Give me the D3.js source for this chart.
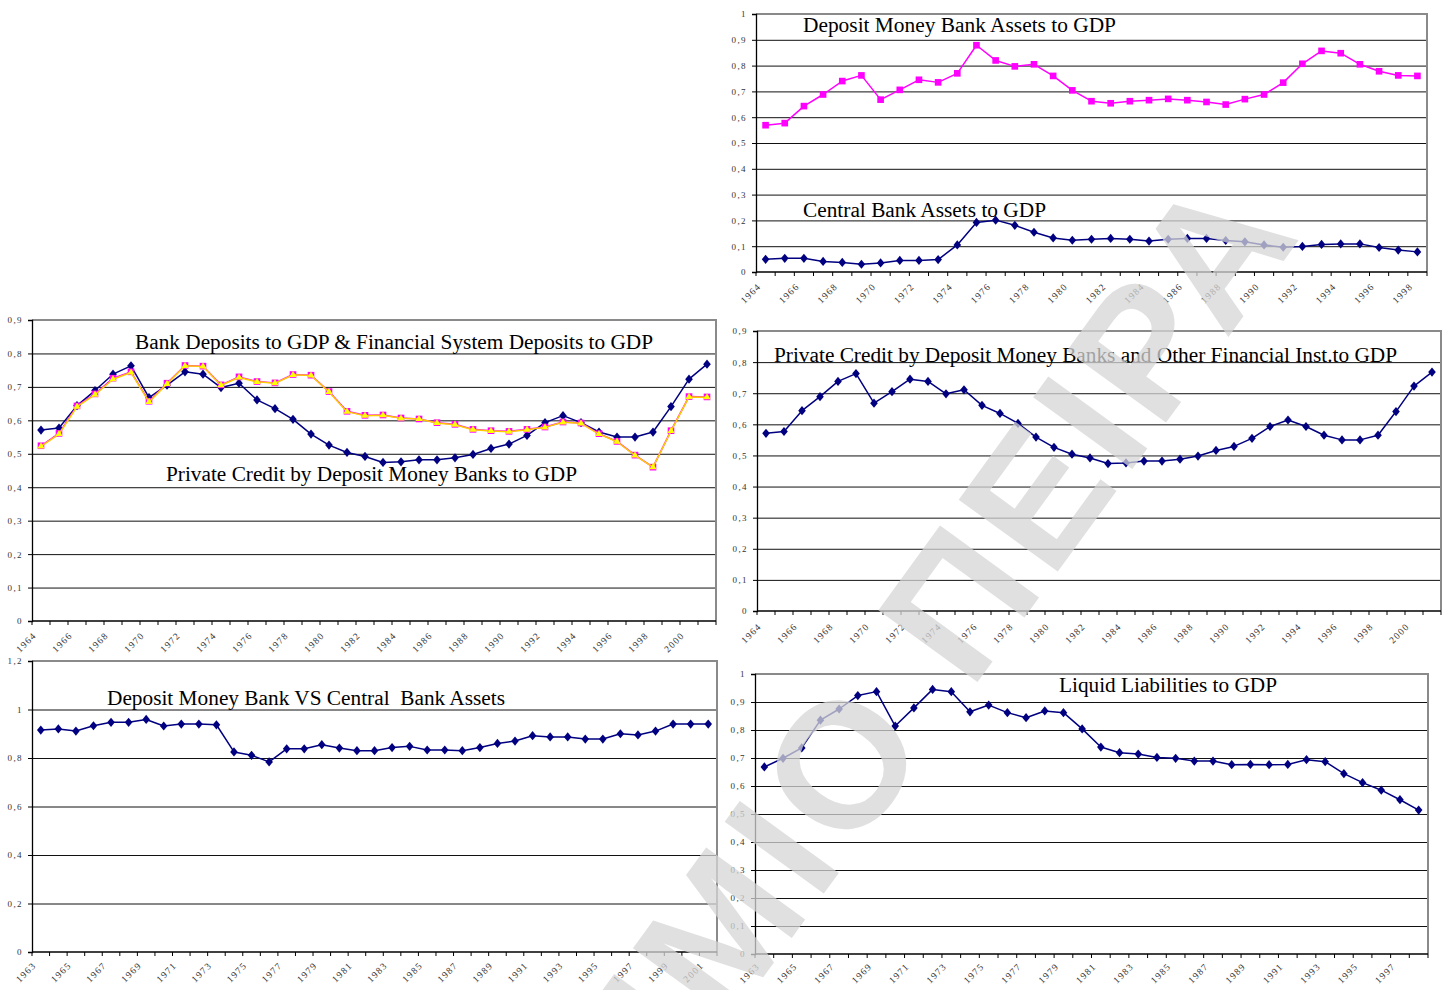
<!DOCTYPE html>
<html>
<head>
<meta charset="utf-8">
<script src="https://cdn.jsdelivr.net/npm/d3@7"></script>
<style>
  body { margin: 0; background: #fff; }
  svg { display: block; }
  text { font-family: "Liberation Serif", "Times New Roman", serif; }
</style>
</head>
<body>
<svg width="1449" height="990"></svg>
<script>
// categories (years) for each panel
var years64to98 = d3.range(1964, 1999);
var years64to01 = d3.range(1964, 2002);
var years63to01 = d3.range(1963, 2002);
var years63to98 = d3.range(1963, 1999);

// y tick values
var ticksTenth09 = [0, 0.1, 0.2, 0.3, 0.4, 0.5, 0.6, 0.7, 0.8, 0.9];
var ticksTenth10 = [0, 0.1, 0.2, 0.3, 0.4, 0.5, 0.6, 0.7, 0.8, 0.9, 1];
var ticksFifth12 = [0, 0.2, 0.4, 0.6, 0.8, 1, 1.2];

// series values
var dmbAssets = [0.569, 0.577, 0.643, 0.688, 0.740, 0.762, 0.668, 0.706, 0.745, 0.735,
                 0.770, 0.879, 0.820, 0.797, 0.805, 0.760, 0.704, 0.662, 0.654, 0.662,
                 0.666, 0.671, 0.666, 0.659, 0.649, 0.670, 0.688, 0.734, 0.807, 0.857,
                 0.848, 0.805, 0.778, 0.762, 0.760];
var cbAssets = [0.049, 0.053, 0.053, 0.041, 0.037, 0.030, 0.035, 0.045, 0.045, 0.048,
                0.105, 0.192, 0.201, 0.181, 0.154, 0.132, 0.123, 0.127, 0.130, 0.127,
                0.120, 0.127, 0.130, 0.130, 0.122, 0.117, 0.105, 0.096, 0.099, 0.107,
                0.109, 0.109, 0.095, 0.085, 0.078];
var privCredit = [0.571, 0.577, 0.644, 0.689, 0.738, 0.763, 0.668, 0.705, 0.745, 0.738,
                  0.698, 0.711, 0.661, 0.635, 0.603, 0.559, 0.526, 0.504, 0.492, 0.474,
                  0.476, 0.482, 0.482, 0.488, 0.498, 0.516, 0.529, 0.555, 0.593, 0.614,
                  0.593, 0.565, 0.550, 0.550, 0.565, 0.641, 0.723, 0.768];
var bankDeposits = [0.524, 0.561, 0.643, 0.679, 0.726, 0.745, 0.657, 0.711, 0.764, 0.762,
                    0.706, 0.730, 0.716, 0.712, 0.737, 0.735, 0.686, 0.627, 0.615, 0.616,
                    0.607, 0.604, 0.593, 0.588, 0.573, 0.569, 0.567, 0.573, 0.580, 0.595,
                    0.592, 0.560, 0.537, 0.496, 0.460, 0.569, 0.671, 0.670];
var finSysDeposits = [0.522, 0.559, 0.641, 0.677, 0.723, 0.743, 0.655, 0.709, 0.763, 0.761,
                      0.705, 0.728, 0.715, 0.711, 0.736, 0.734, 0.685, 0.626, 0.614, 0.615,
                      0.606, 0.604, 0.592, 0.587, 0.572, 0.568, 0.566, 0.572, 0.579, 0.594,
                      0.591, 0.559, 0.536, 0.495, 0.460, 0.568, 0.670, 0.669];
var dmbVsCb = [0.915, 0.920, 0.911, 0.933, 0.947, 0.947, 0.959, 0.932, 0.940, 0.940,
               0.937, 0.825, 0.811, 0.784, 0.838, 0.838, 0.855, 0.841, 0.830, 0.830,
               0.843, 0.848, 0.833, 0.833, 0.830, 0.843, 0.860, 0.870, 0.892, 0.887,
               0.887, 0.878, 0.878, 0.900, 0.895, 0.911, 0.940, 0.940, 0.940];
var liquidLiab = [0.668, 0.699, 0.736, 0.835, 0.875, 0.923, 0.937, 0.814, 0.879, 0.945,
                  0.937, 0.865, 0.889, 0.862, 0.844, 0.868, 0.862, 0.804, 0.739, 0.719,
                  0.714, 0.702, 0.699, 0.689, 0.689, 0.676, 0.677, 0.676, 0.677, 0.694,
                  0.687, 0.644, 0.612, 0.585, 0.551, 0.514];

var navy = "#000080", magenta = "#ff00ff", gold = "#ffcc00", yellow = "#ffff00";

var svg = d3.select("svg");

function fmtTick(d) {
  var v = Math.round(d * 10) / 10;
  return Number.isInteger(v) ? String(v) : v.toFixed(1).replace(".", ",");
}

var diamond = "M0,-4.6L3.8,0L0,4.6L-3.8,0Z";

function drawPanel(p) {
  var g = svg.append("g");
  var x = d3.scaleBand().domain(p.years).range([p.l, p.r]);
  var bw = x.bandwidth();
  var y = d3.scaleLinear().domain([0, p.ymax]).range([p.b, p.t]);

  // gridlines
  g.append("g")
    .attr("transform", "translate(" + p.l + ",0)")
    .call(d3.axisLeft(y).tickValues(p.yticks.filter(function (d) { return d > 0 && d < p.ymax; }))
      .tickSize(-(p.r - p.l)).tickFormat(""))
    .call(function (s) { s.select(".domain").remove(); })
    .selectAll("line").attr("stroke", "#111").attr("stroke-width", 1);

  // plot border (top, right)
  g.append("path")
    .attr("d", "M" + p.l + "," + p.t + "H" + p.r + "V" + p.b)
    .attr("fill", "none").attr("stroke", "#8a8a8a").attr("stroke-width", 2);

  // y axis
  var ya = g.append("g")
    .attr("transform", "translate(" + p.l + ",0)")
    .call(d3.axisLeft(y).tickValues(p.yticks).tickSize(4).tickPadding(5).tickFormat(fmtTick));
  ya.select(".domain").attr("stroke", "#000").attr("stroke-width", 1.3);
  ya.selectAll("line").attr("stroke", "#000");
  ya.selectAll("text").attr("font-family", "Liberation Serif").attr("font-size", 9)
    .attr("letter-spacing", 1.4).attr("fill", "#333");

  // x axis: line, boundary ticks, rotated labels
  g.append("line").attr("x1", p.l).attr("x2", p.r).attr("y1", p.b).attr("y2", p.b)
    .attr("stroke", "#000").attr("stroke-width", 1.3);
  g.append("g").selectAll("line").data(p.years.concat(["end"])).join("line")
    .attr("x1", function (d) { return d === "end" ? p.r : x(d); })
    .attr("x2", function (d) { return d === "end" ? p.r : x(d); })
    .attr("y1", p.b).attr("y2", p.b + 4).attr("stroke", "#000");
  var xa = g.append("g")
    .attr("transform", "translate(0," + p.b + ")")
    .call(d3.axisBottom(x).tickValues(p.years.filter(function (d, i) { return i % 2 === 0; }))
      .tickSize(0).tickFormat(String));
  xa.select(".domain").remove();
  xa.selectAll("text")
    .attr("x", 0).attr("y", 0).attr("dy", 0)
    .attr("transform", "translate(-4," + p.labelDy + ") rotate(-45)")
    .attr("text-anchor", "end")
    .attr("font-family", "Liberation Serif").attr("font-size", 9.5)
    .attr("letter-spacing", 1.3).attr("fill", "#333");

  // titles
  p.titles.forEach(function (t) {
    g.append("text").attr("x", t.x).attr("y", t.y)
      .attr("font-size", 20).attr("fill", "#000")
      .attr("textLength", t.w).attr("lengthAdjust", "spacingAndGlyphs")
      .style("white-space", "pre")
      .text(t.text);
  });

  // series
  var line = d3.line()
    .x(function (d, i) { return x(p.years[i]) + bw / 2; })
    .y(function (d) { return y(d); });
  p.series.forEach(function (s) {
    g.append("path").datum(s.values).attr("d", line)
      .attr("fill", "none").attr("stroke", s.color).attr("stroke-width", 1.5)
      .attr("stroke-linejoin", "round");
    var m = g.append("g").selectAll("path").data(s.values).join("path")
      .attr("transform", function (d, i) {
        return "translate(" + (x(p.years[i]) + bw / 2) + "," + y(d) + ")";
      });
    if (s.marker === "diamond") {
      m.attr("d", diamond).attr("fill", s.color);
    } else if (s.marker === "square") {
      m.attr("d", d3.symbol(d3.symbolSquare, 44)()).attr("fill", s.color);
    } else if (s.marker === "triangle") {
      m.attr("d", d3.symbol(d3.symbolTriangle, 22)()).attr("fill", yellow);
    }
  });
}

drawPanel({
  l: 756, r: 1427, t: 14, b: 272, ymax: 1, yticks: ticksTenth10, years: years64to98, labelDy: 15,
  titles: [
    { text: "Deposit Money Bank Assets to GDP", x: 803, y: 32, w: 313 },
    { text: "Central Bank Assets to GDP", x: 803, y: 217, w: 243 }
  ],
  series: [
    { values: dmbAssets, color: magenta, marker: "square" },
    { values: cbAssets, color: navy, marker: "diamond" }
  ]
});

drawPanel({
  l: 32, r: 716, t: 320, b: 621, ymax: 0.9, yticks: ticksTenth09, years: years64to01, labelDy: 15,
  titles: [
    { text: "Bank Deposits to GDP & Financial System Deposits to GDP", x: 135, y: 349, w: 518 },
    { text: "Private Credit by Deposit Money Banks to GDP", x: 166, y: 481, w: 411 }
  ],
  series: [
    { values: privCredit, color: navy, marker: "diamond" },
    { values: bankDeposits, color: magenta, marker: "square" },
    { values: finSysDeposits, color: gold, marker: "triangle" }
  ]
});

drawPanel({
  l: 757, r: 1441, t: 331, b: 611, ymax: 0.9, yticks: ticksTenth09, years: years64to01, labelDy: 16,
  titles: [
    { text: "Private Credit by Deposit Money Banks and Other Financial Inst.to GDP", x: 774, y: 362, w: 623 }
  ],
  series: [
    { values: privCredit, color: navy, marker: "diamond" }
  ]
});

drawPanel({
  l: 32, r: 717, t: 661, b: 952, ymax: 1.2, yticks: ticksFifth12, years: years63to01, labelDy: 14,
  titles: [
    { text: "Deposit Money Bank VS Central  Bank Assets", x: 107, y: 705, w: 398 }
  ],
  series: [
    { values: dmbVsCb, color: navy, marker: "diamond" }
  ]
});

drawPanel({
  l: 755, r: 1428, t: 674, b: 954, ymax: 1, yticks: ticksTenth10, years: years63to98, labelDy: 13,
  titles: [
    { text: "Liquid Liabilities to GDP", x: 1059, y: 692, w: 218 }
  ],
  series: [
    { values: liquidLiab, color: navy, marker: "diamond" }
  ]
});

// watermark
svg.append("text")
  .attr("transform", "translate(1306,230) rotate(-54)")
  .attr("text-anchor", "end")
  .style("font-family", "'Liberation Sans', Arial, sans-serif")
  .attr("font-weight", "bold")
  .attr("font-size", 178)
  .attr("letter-spacing", 8)
  .attr("fill", "#d6d6d6")
  .attr("opacity", 0.75)
  .text("ΠΑΝΕΠΙΣΤΗΜΙΟ ΠΕΙΡΑ");
</script>
</body>
</html>
